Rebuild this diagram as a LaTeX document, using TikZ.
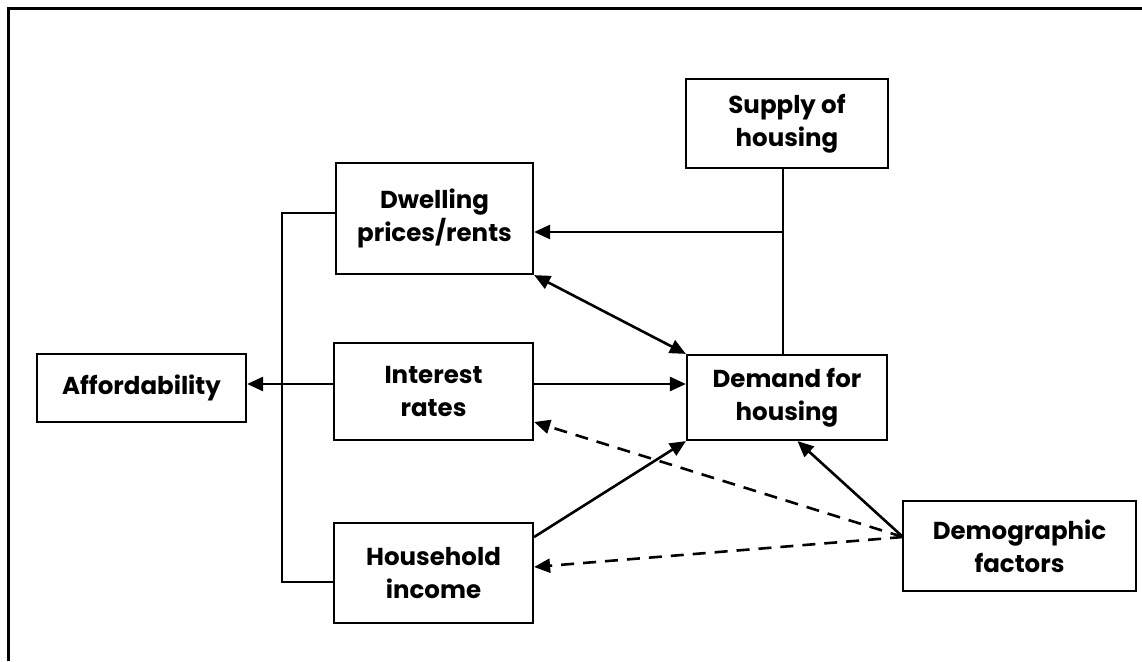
\documentclass[tikz,border=0pt]{standalone}
\usepackage{fontspec}
\setmainfont{Poppins}
\usetikzlibrary{arrows.meta}
\tikzset{
  box/.style={draw, line width=2.2pt, align=center, inner sep=0pt,
    font=\fontsize{24.5}{33}\selectfont\bfseries},
  conn/.style={line width=2.6pt, -{Triangle[length=16pt,width=14pt]}},
  dconn/.style={conn, dash pattern=on 13pt off 9pt},
  bothconn/.style={line width=2.6pt, {Triangle[length=16pt,width=14pt]}-{Triangle[length=16pt,width=14pt]}},
  thin/.style={line width=1.8pt},
  frame/.style={line width=3pt}
}
\begin{document}
\begin{tikzpicture}[x=1pt,y=-1pt]
\useasboundingbox (0,0) rectangle (1142,661);
% outer frame (cropped)
\coordinate (fbl) at (8,661);
\coordinate (ftl) at (8,9);
\coordinate (ftr) at (1142,9);
\draw[frame] (fbl) -- (ftl) -- (ftr);

\node[box, minimum width=202pt, minimum height=89pt] (supply) at (787,123.5) {Supply of\\housing};
\node[box, minimum width=197pt, minimum height=111pt] (dwell) at (434.5,218.5) {Dwelling\\prices/rents};
\node[box, minimum width=199pt, minimum height=97pt] (interest) at (433.5,391.5) {Interest\\rates};
\node[box, minimum width=199pt, minimum height=100pt] (household) at (433.5,573) {Household\\income};
\node[box, minimum width=209pt, minimum height=68pt] (afford) at (141.5,388) {Affordability};
\node[box, minimum width=200pt, minimum height=85pt] (demand) at (787,397.5) {Demand for\\housing};
\node[box, minimum width=233pt, minimum height=90pt] (demog) at (1019.5,546) {Demographic\\factors};

% helper coordinates
\coordinate (sj) at (783,232);
\coordinate (iry) at (0,384);
\coordinate (brtop) at (282,213);
\coordinate (brbot) at (282,582);
\coordinate (hiy) at (0,537);
\coordinate (dmx) at (797.5,0);
\coordinate (dgo) at (903,537);
\coordinate (iry2) at (0,422);
\coordinate (hiy2) at (0,567);

% supply to demand, branch to dwelling
\draw[thin] (supply.south -| sj) -- (demand.north -| sj);
\draw[conn] (sj) -- (dwell.east |- sj);
% dwelling <-> demand
\draw[bothconn] (dwell.south east) -- (demand.north west);
% interest -> demand
\draw[conn] (interest.east |- iry) -- (demand.west |- iry);
% interest -> affordability
\draw[conn] (interest.west |- iry) -- (afford.east |- iry);
% bracket
\draw[thin] (dwell.west |- brtop) -- (brtop) -- (brbot) -- (household.west |- brbot);
% household -> demand
\draw[conn] (household.east |- hiy) -- (demand.south west);
% demographic -> demand
\draw[conn] (dgo) -- (demand.south -| dmx);
% demographic dashed
\draw[dconn] (dgo) -- (interest.east |- iry2);
\draw[dconn] (dgo) -- (household.east |- hiy2);
\end{tikzpicture}
\end{document}
